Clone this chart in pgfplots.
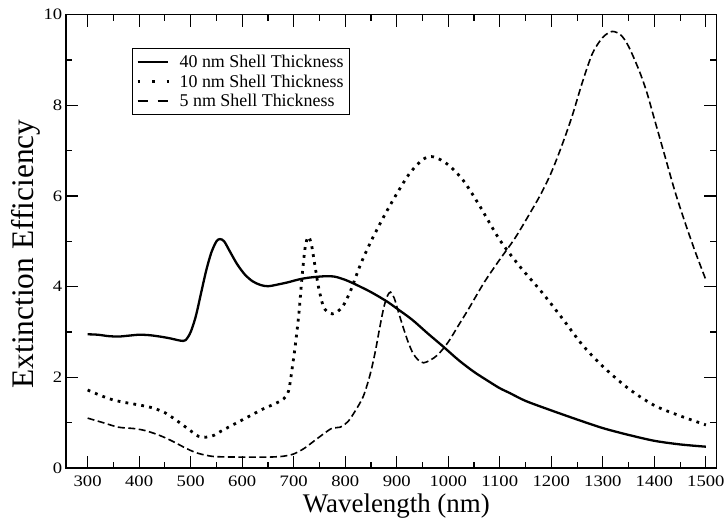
\documentclass[border=0pt]{standalone}
\usepackage{fontspec}
\setmainfont{Liberation Serif}
\newfontfamily\tickfont[FakeStretch=1.17]{Liberation Serif}
\usepackage{pgfplots}
\pgfplotsset{compat=1.18}
\pgfplotsset{
  dotleg/.style={legend image code/.code={\draw[##1, dash pattern=on 2.6bp off 11.9bp] (0bp,0bp) -- (31.6bp,0bp);}},
  dashleg/.style={legend image code/.code={\draw[##1, line width=2bp, dash pattern=on 10bp off 10bp] (0bp,0bp) -- (30bp,0bp);}},
}
\begin{document}
\begin{tikzpicture}
\useasboundingbox (-66bp,-50bp) rectangle (660bp,468bp);
\begin{axis}[
  scale only axis, width=650.7bp, height=453.3bp,
  xmin=258, xmax=1521, ymin=0, ymax=10,
  xtick={300,400,...,1500}, ytick={0,2,...,10},
  minor x tick num=1, minor y tick num=1,
  tick align=inside,
  major tick length=12.5bp, minor tick length=6.5bp,
  every tick/.style={black, line width=1.1bp},
  axis line style={line width=1.2bp},
  /pgf/number format/assume math mode=true,
  /pgf/number format/1000 sep={},
  tick label style={font=\tickfont\fontsize{16}{16}\selectfont},
  xticklabel style={anchor=north, inner sep=0pt, yshift=-7.5bp},
  yticklabel style={anchor=east, inner sep=0pt, xshift=-3.5bp},
  xlabel={Wavelength (nm)}, ylabel={Extinction Efficiency},
  xlabel style={at={(axis description cs:0.5077,-0.0971)}, anchor=base, inner sep=0pt, font=\fontsize{27}{27}\selectfont},
  ylabel style={at={(axis description cs:-0.0507,0.472)}, anchor=base, inner sep=0pt, font=\fontsize{31.5}{31.5}\selectfont},
  legend image code/.code={\draw[#1] (0bp,0bp) -- (30bp,0bp);},
  legend style={at={(axis description cs:0.101,0.9265)}, anchor=north west,
    draw=black, line width=1bp, font=\fontsize{18}{18}\selectfont,
    inner xsep=4bp, inner ysep=6.5bp, row sep=6bp, column sep=7bp,
    cells={anchor=west},
    nodes={inner xsep=2bp, inner ysep=0pt, text height=12.5bp, text depth=1bp}},
]
\addplot[black, line width=2.3bp, line join=round, smooth, tension=0.5] coordinates {
(300,2.95) (320,2.94) (340,2.91) (360,2.90) (380,2.92) (400,2.94) (420,2.93)
(440,2.90) (460,2.86) (480,2.81) (490,2.82) (500,3.0) (510,3.35) (520,3.85)
(530,4.35) (540,4.75) (550,5.0) (557,5.05) (565,5.0) (575,4.8) (590,4.5)
(605,4.27) (620,4.12) (635,4.04) (650,4.01) (670,4.05) (690,4.1) (710,4.16)
(730,4.2) (760,4.23) (780,4.22) (800,4.15) (820,4.05) (850,3.88) (880,3.68)
(900,3.52) (930,3.27) (960,2.97) (990,2.68) (1020,2.38) (1050,2.12) (1080,1.9)
(1100,1.76) (1120,1.65) (1150,1.48) (1200,1.27) (1250,1.07) (1300,0.88)
(1350,0.73) (1400,0.6) (1450,0.52) (1500,0.47)
};
\addlegendentry{40 nm Shell Thickness}
\addplot[black, line width=2.8bp, dash pattern=on 2.8bp off 5.2bp, smooth, tension=0.5, dotleg] coordinates {
(300,1.72) (325,1.6) (350,1.5) (375,1.44) (400,1.39) (425,1.33) (450,1.22)
(475,1.03) (500,0.82) (515,0.7) (530,0.68) (545,0.72) (560,0.82) (580,0.94)
(600,1.06) (620,1.18) (640,1.3) (660,1.4) (680,1.52) (690,1.7) (697,2.2)
(703,2.7) (710,3.4) (716,4.2) (722,4.85) (728,5.1) (734,4.95) (740,4.55)
(748,4.0) (757,3.58) (765,3.45) (775,3.4) (785,3.45) (796,3.58) (810,3.9)
(830,4.5) (850,5.0) (875,5.55) (900,6.05) (925,6.5) (950,6.8) (967,6.87)
(985,6.8) (1005,6.64) (1030,6.33) (1060,5.8) (1100,5.03) (1140,4.43)
(1180,3.9) (1220,3.32) (1260,2.72) (1300,2.24) (1350,1.75) (1400,1.38)
(1450,1.15) (1500,0.95)
};
\addlegendentry{10 nm Shell Thickness}
\addplot[black, line width=1.6bp, dash pattern=on 7bp off 3.5bp, smooth, tension=0.5, dashleg] coordinates {
(300,1.1) (330,1.0) (360,0.9) (390,0.87) (410,0.83) (430,0.76) (450,0.67)
(470,0.56) (490,0.44) (510,0.34) (530,0.28) (550,0.25) (600,0.24) (650,0.24)
(680,0.26) (700,0.31) (720,0.43) (740,0.6) (760,0.77) (775,0.88) (790,0.9)
(805,1.02) (820,1.27) (835,1.58) (848,2.05) (858,2.55) (867,3.1) (875,3.55)
(882,3.8) (888,3.88) (895,3.75) (903,3.45) (912,3.12) (922,2.78) (932,2.52)
(942,2.38) (952,2.32) (965,2.38) (980,2.5) (1000,2.78) (1020,3.15) (1040,3.52)
(1070,4.1) (1100,4.6) (1130,5.08) (1160,5.65) (1180,6.05) (1200,6.52)
(1220,7.1) (1240,7.75) (1260,8.5) (1280,9.15) (1300,9.5) (1318,9.63)
(1335,9.55) (1350,9.3) (1370,8.78) (1385,8.3) (1400,7.7) (1420,6.9)
(1440,6.1) (1460,5.4) (1480,4.75) (1500,4.15)
};
\addlegendentry{5 nm Shell Thickness}
\end{axis}
\end{tikzpicture}
\end{document}
